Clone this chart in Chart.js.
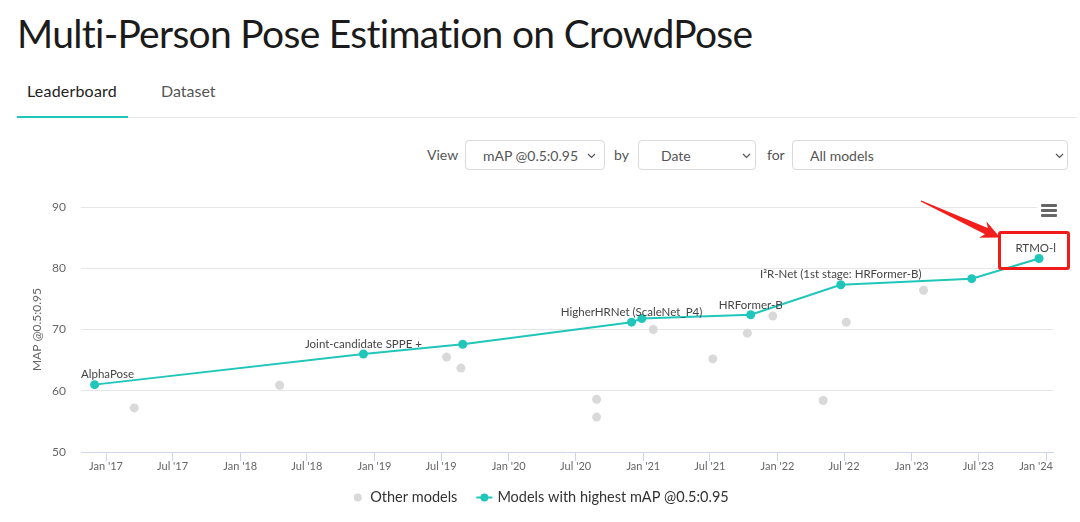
<!DOCTYPE html>
<html>
<head>
<meta charset="utf-8">
<script src="https://cdn.jsdelivr.net/npm/chart.js@4.4.1/dist/chart.umd.min.js"></script>
<style>
html,body{margin:0;padding:0;background:#fff;width:1080px;height:522px;overflow:hidden;font-family:Lato,"Noto Sans",sans-serif;}
.abs{position:absolute;white-space:nowrap;}
#title{left:17px;top:9px;font-size:39px;letter-spacing:-0.7px;line-height:48px;color:#1b1b1b;}
.tab{top:81px;font-size:16px;line-height:20px;}
#tab1{left:27px;color:#222;letter-spacing:0.2px;}
#tab2{left:161px;color:#555;}
#tabline{left:17px;top:117px;width:1060px;height:1px;background:#e6e6e6;}
#tabactive{left:17px;top:116px;width:111px;height:2px;background:#21c6bb;}
.lbl{top:140px;font-size:14px;line-height:30px;color:#555;}
.sel{top:140px;height:28px;border:1px solid #d9d9d9;border-radius:4px;font-size:14px;line-height:29px;color:#555;box-sizing:content-box;}
.sel span{position:absolute;left:17px;top:0;}
.sel svg{position:absolute;top:12px;}
#chartwrap{left:0;top:180px;width:1080px;height:342px;}
#menu{left:1037px;top:198px;width:24px;height:22px;background:#fff;}
.bar{position:absolute;left:4px;width:16px;height:2.6px;background:#666;border-radius:1px;}
#overlay{left:0;top:0;width:1080px;height:522px;pointer-events:none;}
</style>
</head>
<body>
<div id="title" class="abs">Multi-Person Pose Estimation on CrowdPose</div>
<div id="tab1" class="abs tab">Leaderboard</div>
<div id="tab2" class="abs tab">Dataset</div>
<div id="tabline" class="abs"></div>
<div id="tabactive" class="abs"></div>

<div class="abs lbl" style="left:427px;">View</div>
<div class="abs sel" style="left:465px;width:138px;"><span>mAP @0.5:0.95</span><svg style="left:121px" width="9" height="6" viewBox="0 0 9 6"><path d="M1 1 L4.5 4.5 L8 1" fill="none" stroke="#555" stroke-width="1.2"/></svg></div>
<div class="abs lbl" style="left:614px;">by</div>
<div class="abs sel" style="left:638px;width:116px;"><span style="left:22px">Date</span><svg style="left:103px" width="9" height="6" viewBox="0 0 9 6"><path d="M1 1 L4.5 4.5 L8 1" fill="none" stroke="#555" stroke-width="1.2"/></svg></div>
<div class="abs lbl" style="left:767px;">for</div>
<div class="abs sel" style="left:792px;width:274px;"><span>All models</span><svg style="left:262px" width="9" height="6" viewBox="0 0 9 6"><path d="M1 1 L4.5 4.5 L8 1" fill="none" stroke="#555" stroke-width="1.2"/></svg></div>

<div id="chartwrap" class="abs"><canvas id="c" width="1080" height="342" style="width:1080px;height:342px;"></canvas></div>
<div id="menu" class="abs"><div class="bar" style="top:6px"></div><div class="bar" style="top:11px"></div><div class="bar" style="top:16px"></div></div>
<svg id="overlay" class="abs" width="1080" height="522"><polygon id="arrow" fill="#f2201c"/><rect x="999.5" y="232.5" width="69" height="36" fill="none" stroke="#f01c1c" stroke-width="3" rx="1.5"/></svg>

<script>
// ---- data ----
const bestDates  = ['2016-12-01','2018-12-02','2019-08-29','2020-11-30','2020-12-28','2021-10-20','2022-06-22','2023-06-13','2023-12-13'];
const bestValues = [61.0, 66.0, 67.6, 71.2, 71.8, 72.4, 77.3, 78.3, 81.6];
const bestNames  = ['AlphaPose','Joint-candidate SPPE +','','HigherHRNet (ScaleNet_P4)','','HRFormer-B','I²R-Net (1st stage: HRFormer-B)','','RTMO-l'];
const otherDates  = ['2017-03-19','2018-04-18','2019-07-16','2019-08-24','2020-08-27','2020-08-27','2021-01-28','2021-07-09','2021-10-11','2021-12-19','2022-05-05','2022-07-07','2023-02-02'];
const otherValues = [57.2, 60.9, 65.5, 63.7, 58.6, 55.7, 70.0, 65.2, 69.4, 72.2, 58.4, 71.2, 76.4];
const xTickDates  = ['2017-01-01','2017-07-01','2018-01-01','2018-07-01','2019-01-01','2019-07-01','2020-01-01','2020-07-01','2021-01-01','2021-07-01','2022-01-01','2022-07-01','2023-01-01','2023-07-01','2024-01-01'];
const xTickLabels = ["Jan '17","Jul '17","Jan '18","Jul '18","Jan '19","Jul '19","Jan '20","Jul '20","Jan '21","Jul '21","Jan '22","Jul '22","Jan '23","Jul '23","Jan '24"];
const yTickValues = [50, 60, 70, 80, 90];
const xRange = ['2016-10-25', '2024-01-20'];
const seriesNames = ['Models with highest mAP @0.5:0.95', 'Other models'];
const yTitle = 'MAP @0.5:0.95';

const BEST = '#21c6bb', OTHER = '#d9d9d9';
const t = s => Date.parse(s);

// arrow decoration
(function(){
  const T=[921,201], H=[1000,237.5];
  const dx=H[0]-T[0], dy=H[1]-T[1], L=Math.hypot(dx,dy);
  const u=[dx/L,dy/L], n=[-u[1],u[0]];
  const p=(a,c)=>(T[0]+u[0]*a+n[0]*c).toFixed(1)+','+(T[1]+u[1]*a+n[1]*c).toFixed(1);
  document.getElementById('arrow').setAttribute('points',
    [p(0,-0.7),p(L-15,-3.4),p(L-19,-9),p(L,0),p(L-19,9),p(L-15,3.4),p(0,0.7)].join(' '));
})();

const labelPlugin = {
  id: 'pointLabels',
  afterDatasetsDraw(chart) {
    const ctx = chart.ctx, area = chart.chartArea;
    const meta = chart.getDatasetMeta(0);
    ctx.save();
    ctx.font = '11.5px Lato';
    ctx.fillStyle = '#444';
    ctx.textBaseline = 'middle';
    ctx.textAlign = 'left';
    meta.data.forEach((el, i) => {
      const s = bestNames[i];
      if (!s) return;
      const w = ctx.measureText(s).width;
      let x = el.x - w / 2;
      if (x < area.left) x = area.left;
      if (x + w > area.right + 3) x = area.right + 3 - w;
      ctx.fillText(s, x, el.y - 10);
    });
    ctx.restore();
  }
};

// x tick labels, kept inside the plot width (edge labels justified)
const xLabelPlugin = {
  id: 'xLabels',
  afterDraw(chart) {
    const ctx = chart.ctx, area = chart.chartArea, sx = chart.scales.x;
    ctx.save();
    ctx.font = '11px Lato';
    ctx.fillStyle = '#666';
    ctx.textBaseline = 'middle';
    ctx.textAlign = 'left';
    xTickDates.forEach((d, i) => {
      const s = xTickLabels[i];
      const w = ctx.measureText(s).width;
      let x = sx.getPixelForValue(t(d)) - w / 2;
      if (x < area.left) x = area.left;
      if (x + w > area.right) x = area.right - w;
      ctx.fillText(s, x, area.bottom + 14);
    });
    ctx.restore();
  }
};

const legendPlugin = {
  id: 'legendDraw',
  afterDraw(chart) {
    const ctx = chart.ctx;
    ctx.save();
    ctx.font = '14.5px Lato';
    const t1 = chart.data.datasets[1].label, t2 = chart.data.datasets[0].label;
    const w1 = ctx.measureText(t1).width, w2 = ctx.measureText(t2).width;
    const total = 9 + 8 + w1 + 19 + 16 + 5 + w2;
    let x = chart.width / 2 + 1 - total / 2;
    const y = 317.5;
    ctx.fillStyle = OTHER; ctx.beginPath(); ctx.arc(x + 4.5, y, 4, 0, 2 * Math.PI); ctx.fill();
    x += 17;
    ctx.fillStyle = '#333'; ctx.textBaseline = 'middle'; ctx.textAlign = 'left';
    ctx.fillText(t1, x, y);
    x += w1 + 19;
    ctx.strokeStyle = BEST; ctx.lineWidth = 2;
    ctx.beginPath(); ctx.moveTo(x, y); ctx.lineTo(x + 16, y); ctx.stroke();
    ctx.fillStyle = BEST; ctx.beginPath(); ctx.arc(x + 8, y, 4, 0, 2 * Math.PI); ctx.fill();
    x += 21;
    ctx.fillStyle = '#333';
    ctx.fillText(t2, x, y);
    ctx.restore();
  }
};

function make() {
  new Chart(document.getElementById('c'), {
    type: 'scatter',
    data: {
      datasets: [
        {
          label: seriesNames[0],
          data: bestDates.map((d, i) => ({ x: t(d), y: bestValues[i] })),
          showLine: true,
          borderColor: BEST, backgroundColor: BEST,
          borderWidth: 2, pointRadius: 4.5, pointBorderWidth: 0,
          pointBackgroundColor: BEST, tension: 0, clip: false
        },
        {
          label: seriesNames[1],
          data: otherDates.map((d, i) => ({ x: t(d), y: otherValues[i] })),
          showLine: false,
          borderColor: OTHER, backgroundColor: OTHER,
          pointRadius: 4.5, pointBorderWidth: 0, pointBackgroundColor: OTHER, clip: false
        }
      ]
    },
    options: {
      responsive: false,
      animation: false,
      devicePixelRatio: 1,
      layout: { padding: { left: 30, top: 27, right: 27, bottom: 0 } },
      plugins: { legend: { display: false }, tooltip: { enabled: false } },
      scales: {
        x: {
          type: 'linear',
          min: t(xRange[0]), max: t(xRange[1]),
          afterBuildTicks: s => { s.ticks = xTickDates.map(d => ({ value: t(d) })); },
          afterFit: s => { s.height = 70; },
          ticks: { display: false, autoSkip: false, maxRotation: 0, minRotation: 0 },
          grid: { drawOnChartArea: false, drawTicks: true, tickLength: 9, color: '#ccd6eb', lineWidth: 1 },
          border: { display: true, color: '#ccd6eb', width: 1 }
        },
        y: {
          min: 50, max: 90,
          afterBuildTicks: s => { s.ticks = yTickValues.map(v => ({ value: v })); },
          afterFit: s => { s.width = 51; },
          ticks: { font: { family: 'Lato', size: 12 }, color: '#666', padding: 15 },
          grid: {
            drawTicks: false,
            color: c => (c.tick && c.tick.value === 50) ? 'rgba(0,0,0,0)' : '#e6e6e6',
            lineWidth: 1
          },
          border: { display: false },
          title: { display: true, text: yTitle, color: '#666', font: { family: 'Lato', size: 12 }, padding: 0 }
        }
      }
    },
    plugins: [labelPlugin, xLabelPlugin, legendPlugin]
  });
}
if (document.fonts && document.fonts.load) {
  Promise.all([document.fonts.load('12px Lato'), document.fonts.load('14px Lato')]).then(make, make);
} else { make(); }
</script>
</body>
</html>
